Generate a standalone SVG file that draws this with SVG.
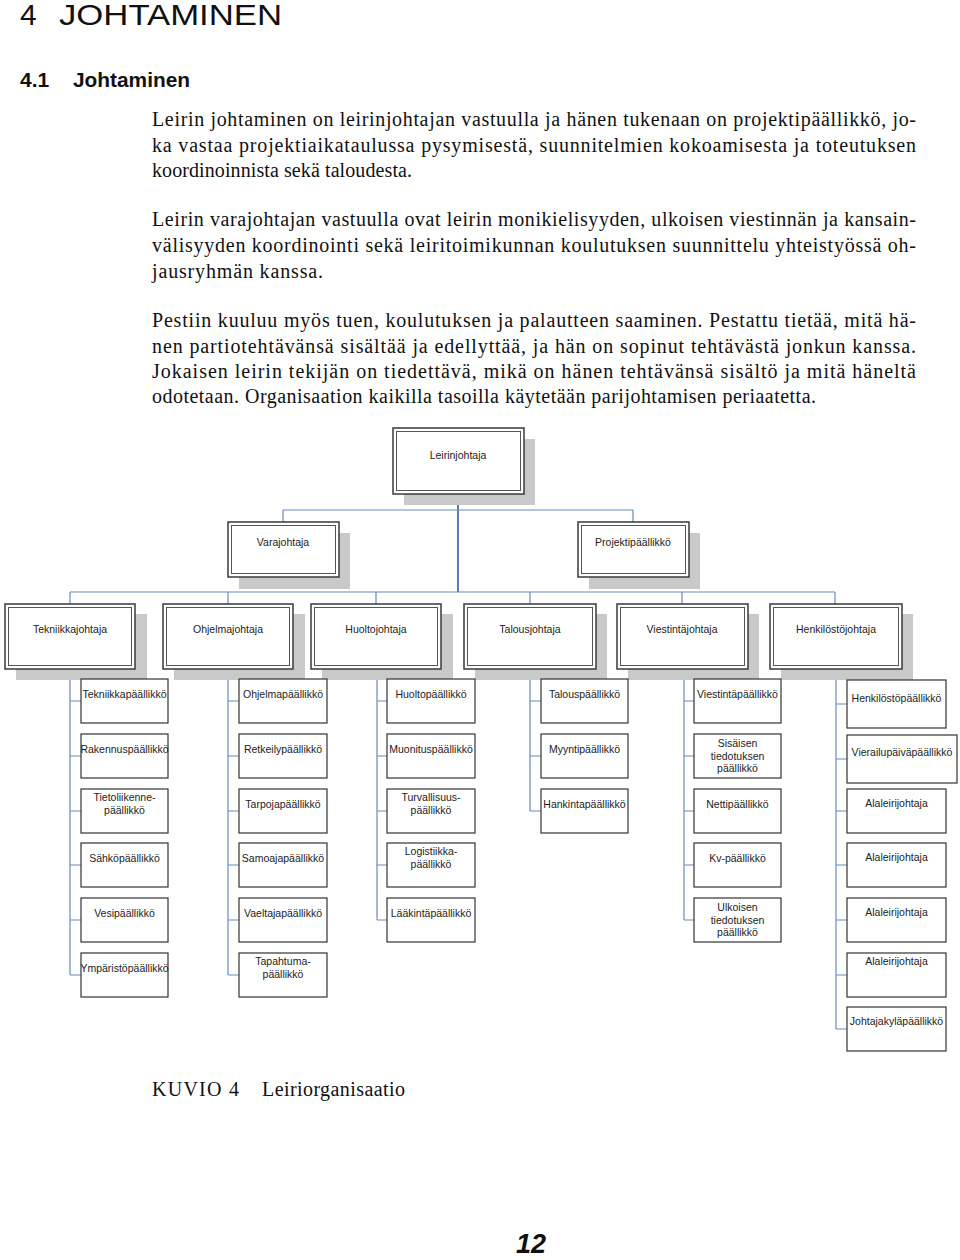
<svg xmlns="http://www.w3.org/2000/svg" width="960" height="1260" viewBox="0 0 960 1260">
<style>
.body{font-family:"Liberation Serif","DejaVu Serif",serif;font-size:20px;fill:#111}
.h1{font-family:"Liberation Sans","DejaVu Sans",sans-serif;font-size:30px;fill:#111}
.h2{font-family:"Liberation Sans","DejaVu Sans",sans-serif;font-size:21px;font-weight:bold;fill:#111}
.lbl{font-family:"Liberation Sans","DejaVu Sans",sans-serif;font-size:10.5px;fill:#222;text-anchor:middle}
.shadow{fill:#c9c9c9}
.outer{fill:#fff;stroke:#3a3a3a;stroke-width:1.5}
.inner{fill:none;stroke:#555;stroke-width:1}
.box{fill:#fff;stroke:#333;stroke-width:1.2}
.conn{stroke:#6a8bb8;stroke-width:1.2;fill:none}
.trunk{stroke:#4a6fae;stroke-width:1.8;fill:none}
</style>

<!-- page text -->
<text class="h1" x="20" y="25">4</text>
<text class="h1" x="59" y="25" textLength="223" lengthAdjust="spacingAndGlyphs">JOHTAMINEN</text>
<text class="h2" x="20" y="87">4.1</text>
<text class="h2" x="73" y="87" textLength="117" lengthAdjust="spacingAndGlyphs">Johtaminen</text>

<text class="body" x="152" y="126" textLength="764" lengthAdjust="spacing">Leirin johtaminen on leirinjohtajan vastuulla ja hänen tukenaan on projektipäällikkö, jo-</text>
<text class="body" x="152" y="152" textLength="764" lengthAdjust="spacing">ka vastaa projektiaikataulussa pysymisestä, suunnitelmien kokoamisesta ja toteutuksen</text>
<text class="body" x="152" y="177" textLength="260" lengthAdjust="spacing">koordinoinnista sekä taloudesta.</text>

<text class="body" x="152" y="226" textLength="764" lengthAdjust="spacing">Leirin varajohtajan vastuulla ovat leirin monikielisyyden, ulkoisen viestinnän ja kansain-</text>
<text class="body" x="152" y="252" textLength="764" lengthAdjust="spacing">välisyyden koordinointi sekä leiritoimikunnan koulutuksen suunnittelu yhteistyössä oh-</text>
<text class="body" x="152" y="278" textLength="171" lengthAdjust="spacing">jausryhmän kanssa.</text>

<text class="body" x="152" y="327" textLength="764" lengthAdjust="spacing">Pestiin kuuluu myös tuen, koulutuksen ja palautteen saaminen. Pestattu tietää, mitä hä-</text>
<text class="body" x="152" y="353" textLength="764" lengthAdjust="spacing">nen partiotehtävänsä sisältää ja edellyttää, ja hän on sopinut tehtävästä jonkun kanssa.</text>
<text class="body" x="152" y="378" textLength="764" lengthAdjust="spacing">Jokaisen leirin tekijän on tiedettävä, mikä on hänen tehtävänsä sisältö ja mitä häneltä</text>
<text class="body" x="152" y="403" textLength="664" lengthAdjust="spacing">odotetaan. Organisaation kaikilla tasoilla käytetään parijohtamisen periaatetta.</text>

<text class="body" x="152" y="1096" textLength="87" lengthAdjust="spacing">KUVIO 4</text>
<text class="body" x="262" y="1096" textLength="143" lengthAdjust="spacing">Leiriorganisaatio</text>

<text x="516" y="1253" font-family="Liberation Sans, DejaVu Sans, sans-serif" font-size="27" font-weight="bold" font-style="italic" fill="#111">12</text>

<!-- connectors -->
<g id="connectors">
  <path class="trunk" d="M458 494V592"/>
  <path class="conn" d="M283 510H633M283 510V522M633 510V522"/>
  <path class="conn" d="M70 592H835M70 592V604M228 592V604M376 592V604M530 592V604M682 592V604M835 592V604"/>
  <path class="conn" d="M70 669V975M70 701H81M70 756H81M70 811H81M70 865H81M70 920H81M70 975H81"/>
  <path class="conn" d="M228 669V975M228 701H239M228 756H239M228 811H239M228 865H239M228 920H239M228 975H239"/>
  <path class="conn" d="M377 669V920M377 701H387M377 756H387M377 811H387M377 865H387M377 920H387"/>
  <path class="conn" d="M530 669V811M530 701H541M530 756H541M530 811H541"/>
  <path class="conn" d="M684 669V920M684 701H694M684 756H694M684 811H694M684 865H694M684 920H694"/>
  <path class="conn" d="M836 669V1029M836 704H847M836 759H847M836 811H847M836 865H847M836 920H847M836 975H847M836 1029H847"/>
</g>

<!-- level 0 -->
<g id="leirinjohtaja">
  <rect class="shadow" x="404" y="439" width="131" height="66"/>
  <rect class="outer" x="393" y="428" width="131" height="66"/>
  <rect class="inner" x="396.5" y="431.5" width="124" height="59"/>
  <text class="lbl" x="458" y="459">Leirinjohtaja</text>
</g>

<!-- level 1 -->
<g id="varajohtaja">
  <rect class="shadow" x="239" y="533" width="111" height="56"/>
  <rect class="outer" x="228" y="522" width="111" height="55"/>
  <rect class="inner" x="231.5" y="525.5" width="104" height="48"/>
  <text class="lbl" x="283" y="546">Varajohtaja</text>
</g>
<g id="projektipaallikko">
  <rect class="shadow" x="589" y="533" width="111" height="56"/>
  <rect class="outer" x="578" y="522" width="111" height="55"/>
  <rect class="inner" x="581.5" y="525.5" width="104" height="48"/>
  <text class="lbl" x="633" y="546">Projektipäällikkö</text>
</g>

<!-- level 2 -->
<g id="tekniikkajohtaja">
  <rect class="shadow" x="16" y="614" width="131" height="66"/>
  <rect class="outer" x="5" y="604" width="130" height="65"/>
  <rect class="inner" x="8.5" y="607.5" width="123" height="58"/>
  <text class="lbl" x="70" y="633">Tekniikkajohtaja</text>
</g>
<g id="ohjelmajohtaja">
  <rect class="shadow" x="174" y="614" width="131" height="66"/>
  <rect class="outer" x="163" y="604" width="130" height="65"/>
  <rect class="inner" x="166.5" y="607.5" width="123" height="58"/>
  <text class="lbl" x="228" y="633">Ohjelmajohtaja</text>
</g>
<g id="huoltojohtaja">
  <rect class="shadow" x="322" y="614" width="131" height="66"/>
  <rect class="outer" x="311" y="604" width="130" height="65"/>
  <rect class="inner" x="314.5" y="607.5" width="123" height="58"/>
  <text class="lbl" x="376" y="633">Huoltojohtaja</text>
</g>
<g id="talousjohtaja">
  <rect class="shadow" x="475" y="614" width="132" height="66"/>
  <rect class="outer" x="464" y="604" width="132" height="65"/>
  <rect class="inner" x="467.5" y="607.5" width="125" height="58"/>
  <text class="lbl" x="530" y="633">Talousjohtaja</text>
</g>
<g id="viestintajohtaja">
  <rect class="shadow" x="628" y="614" width="131" height="66"/>
  <rect class="outer" x="617" y="604" width="131" height="65"/>
  <rect class="inner" x="620.5" y="607.5" width="124" height="58"/>
  <text class="lbl" x="682" y="633">Viestintäjohtaja</text>
</g>
<g id="henkilostojohtaja">
  <rect class="shadow" x="781" y="614" width="132" height="66"/>
  <rect class="outer" x="770" y="604" width="132" height="65"/>
  <rect class="inner" x="773.5" y="607.5" width="125" height="58"/>
  <text class="lbl" x="836" y="633">Henkilöstöjohtaja</text>
</g>

<!-- level 3 column 1 -->
<g id="tekniikkapaallikko"><rect class="box" x="81" y="679" width="87" height="44"/><text class="lbl" x="124.5" y="698">Tekniikkapäällikkö</text></g>
<g id="rakennuspaallikko"><rect class="box" x="81" y="734" width="87" height="44"/><text class="lbl" x="124.5" y="753">Rakennuspäällikkö</text></g>
<g id="tietoliikennepaallikko"><rect class="box" x="81" y="789" width="87" height="44"/><text class="lbl" x="124.5" y="801">Tietoliikenne-</text><text class="lbl" x="124.5" y="814">päällikkö</text></g>
<g id="sahkopaallikko"><rect class="box" x="81" y="843" width="87" height="44"/><text class="lbl" x="124.5" y="862">Sähköpäällikkö</text></g>
<g id="vesipaallikko"><rect class="box" x="81" y="898" width="87" height="44"/><text class="lbl" x="124.5" y="917">Vesipäällikkö</text></g>
<g id="ymparistopaallikko"><rect class="box" x="81" y="953" width="87" height="44"/><text class="lbl" x="124.5" y="972">Ympäristöpäällikkö</text></g>

<!-- column 2 -->
<g id="ohjelmapaallikko"><rect class="box" x="239" y="679" width="88" height="44"/><text class="lbl" x="283" y="698">Ohjelmapäällikkö</text></g>
<g id="retkeilypaallikko"><rect class="box" x="239" y="734" width="88" height="44"/><text class="lbl" x="283" y="753">Retkeilypäällikkö</text></g>
<g id="tarpojapaallikko"><rect class="box" x="239" y="789" width="88" height="44"/><text class="lbl" x="283" y="808">Tarpojapäällikkö</text></g>
<g id="samoajapaallikko"><rect class="box" x="239" y="843" width="88" height="44"/><text class="lbl" x="283" y="862">Samoajapäällikkö</text></g>
<g id="vaeltajapaallikko"><rect class="box" x="239" y="898" width="88" height="44"/><text class="lbl" x="283" y="917">Vaeltajapäällikkö</text></g>
<g id="tapahtumapaallikko"><rect class="box" x="239" y="953" width="88" height="44"/><text class="lbl" x="283" y="965">Tapahtuma-</text><text class="lbl" x="283" y="978">päällikkö</text></g>

<!-- column 3 -->
<g id="huoltopaallikko"><rect class="box" x="387" y="679" width="88" height="44"/><text class="lbl" x="431" y="698">Huoltopäällikkö</text></g>
<g id="muonituspaallikko"><rect class="box" x="387" y="734" width="88" height="44"/><text class="lbl" x="431" y="753">Muonituspäällikkö</text></g>
<g id="turvallisuuspaallikko"><rect class="box" x="387" y="789" width="88" height="44"/><text class="lbl" x="431" y="801">Turvallisuus-</text><text class="lbl" x="431" y="814">päällikkö</text></g>
<g id="logistiikkapaallikko"><rect class="box" x="387" y="843" width="88" height="44"/><text class="lbl" x="431" y="855">Logistiikka-</text><text class="lbl" x="431" y="868">päällikkö</text></g>
<g id="laakintapaallikko"><rect class="box" x="387" y="898" width="88" height="44"/><text class="lbl" x="431" y="917">Lääkintäpäällikkö</text></g>

<!-- column 4 -->
<g id="talouspaallikko"><rect class="box" x="541" y="679" width="87" height="44"/><text class="lbl" x="584.5" y="698">Talouspäällikkö</text></g>
<g id="myyntipaallikko"><rect class="box" x="541" y="734" width="87" height="44"/><text class="lbl" x="584.5" y="753">Myyntipäällikkö</text></g>
<g id="hankintapaallikko"><rect class="box" x="541" y="789" width="87" height="44"/><text class="lbl" x="584.5" y="808">Hankintapäällikkö</text></g>

<!-- column 5 -->
<g id="viestintapaallikko"><rect class="box" x="694" y="679" width="87" height="44"/><text class="lbl" x="737.5" y="698">Viestintäpäällikkö</text></g>
<g id="sisaisen"><rect class="box" x="694" y="734" width="87" height="44"/><text class="lbl" x="737.5" y="747">Sisäisen</text><text class="lbl" x="737.5" y="759.5">tiedotuksen</text><text class="lbl" x="737.5" y="772">päällikkö</text></g>
<g id="nettipaallikko"><rect class="box" x="694" y="789" width="87" height="44"/><text class="lbl" x="737.5" y="808">Nettipäällikkö</text></g>
<g id="kvpaallikko"><rect class="box" x="694" y="843" width="87" height="44"/><text class="lbl" x="737.5" y="862">Kv-päällikkö</text></g>
<g id="ulkoisen"><rect class="box" x="694" y="898" width="87" height="44"/><text class="lbl" x="737.5" y="911">Ulkoisen</text><text class="lbl" x="737.5" y="923.5">tiedotuksen</text><text class="lbl" x="737.5" y="936">päällikkö</text></g>

<!-- column 6 -->
<g id="henkilostopaallikko"><rect class="box" x="847" y="680" width="99" height="48"/><text class="lbl" x="896.5" y="702">Henkilöstöpäällikkö</text></g>
<g id="vierailupaivapaallikko"><rect class="box" x="847" y="735" width="110" height="48"/><text class="lbl" x="902" y="756">Vierailupäiväpäällikkö</text></g>
<g id="alaleiri1"><rect class="box" x="847" y="789" width="99" height="44"/><text class="lbl" x="896.5" y="807">Alaleirijohtaja</text></g>
<g id="alaleiri2"><rect class="box" x="847" y="843" width="99" height="44"/><text class="lbl" x="896.5" y="861">Alaleirijohtaja</text></g>
<g id="alaleiri3"><rect class="box" x="847" y="898" width="99" height="44"/><text class="lbl" x="896.5" y="916">Alaleirijohtaja</text></g>
<g id="alaleiri4"><rect class="box" x="847" y="953" width="99" height="44"/><text class="lbl" x="896.5" y="965">Alaleirijohtaja</text></g>
<g id="johtajakylapaallikko"><rect class="box" x="847" y="1007" width="99" height="44"/><text class="lbl" x="896.5" y="1025">Johtajakyläpäällikkö</text></g>
</svg>
